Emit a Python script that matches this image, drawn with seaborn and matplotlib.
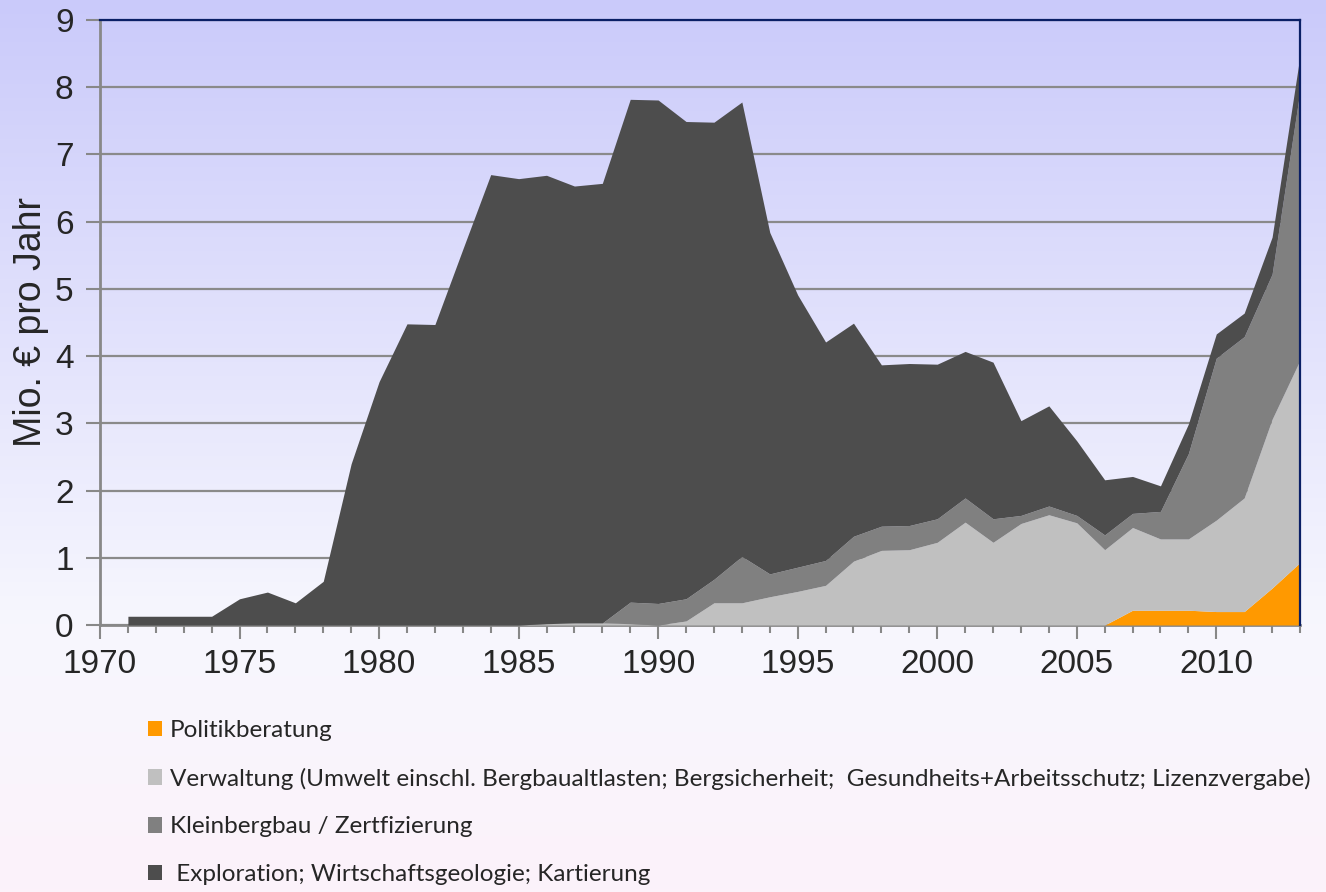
import numpy as np
import pandas as pd
import matplotlib
matplotlib.use("Agg")
import matplotlib.pyplot as plt
import seaborn as sns
from matplotlib.colors import LinearSegmentedColormap
from matplotlib.patches import Patch

# years with data (axis starts at 1970, first value is 1971)
years = list(range(1971, 2014))

# Mio. EUR per year (stacked from bottom to top)
politik = [0] * 35 + [0.0, 0.22, 0.22, 0.22, 0.20, 0.20, 0.55, 0.93]
verwaltung = [0] * 15 + [0.02, 0.03, 0.03, 0.02, 0.0, 0.06, 0.33, 0.33, 0.42,
                         0.50, 0.59, 0.95, 1.11, 1.12, 1.23, 1.53, 1.23, 1.51,
                         1.64, 1.52, 1.12, 1.23, 1.06, 1.06, 1.36, 1.69, 2.51, 3.01]
kleinbergbau = [0] * 17 + [0.0, 0.32, 0.32, 0.33, 0.35, 0.69, 0.34, 0.36, 0.37,
                           0.37, 0.36, 0.36, 0.35, 0.36, 0.35, 0.12, 0.13, 0.11,
                           0.22, 0.21, 0.41, 1.27, 2.41, 2.40, 2.16, 4.01]
exploration = [0.13, 0.13, 0.13, 0.13, 0.39, 0.49, 0.33, 0.65, 2.40, 3.62,
               4.48, 4.47, 5.59, 6.70, 6.64, 6.67, 6.50, 6.54, 7.48, 7.49,
               7.10, 6.80, 6.76, 5.08, 4.05, 3.25, 3.17, 2.40, 2.41, 2.30,
               2.18, 2.33, 1.41, 1.49, 1.11, 0.82, 0.55, 0.38, 0.44, 0.36,
               0.35, 0.55, 0.52]

labels = ["Politikberatung",
          "Verwaltung (Umwelt einschl. Bergbaualtlasten; Bergsicherheit;  Gesundheits+Arbeitsschutz; Lizenzvergabe)",
          "Kleinbergbau / Zertfizierung",
          " Exploration; Wirtschaftsgeologie; Kartierung"]
colors = ["#FF9900", "#C0C0C0", "#808080", "#4D4D4D"]

df = pd.DataFrame({labels[0]: politik, labels[1]: verwaltung,
                   labels[2]: kleinbergbau, labels[3]: exploration}, index=years)

sns.set_style("white")
plt.rcParams["font.family"] = ["Liberation Sans", "DejaVu Sans"]

fig = plt.figure(figsize=(13.26, 8.92), dpi=100)

# lavender-to-white background gradient over the whole figure
bg = fig.add_axes([0, 0, 1, 1], zorder=-10)
cmap = LinearSegmentedColormap.from_list(
    "bg", [(0.0, "#CACAFA"), (0.70, "#F7F7FE"), (1.0, "#FCF2FA")])
bg.imshow(np.linspace(0, 1, 256).reshape(-1, 1), aspect="auto", cmap=cmap,
          extent=[0, 1, 0, 1])
bg.axis("off")

ax = fig.add_axes([100 / 1326, 1 - 625 / 892, 1200 / 1326, 605 / 892])
ax.patch.set_alpha(0)

ax.stackplot(df.index, df.T.values, colors=colors, labels=labels,
             linewidth=0, zorder=3)

ax.set_xlim(1970, 2013)
ax.set_ylim(0, 9)
ax.set_yticks(range(0, 10))
ax.set_xticks(range(1970, 2014, 5))
ax.set_xticks(range(1970, 2014), minor=True)
ax.yaxis.grid(True, color="#8A8A8A", linewidth=1.6, zorder=0)
ax.set_axisbelow(True)

for s in ["top", "right"]:
    ax.spines[s].set_color("#0A1F66")
    ax.spines[s].set_linewidth(1.6)
for s in ["left", "bottom"]:
    ax.spines[s].set_color("#888888")
    ax.spines[s].set_linewidth(2)
ax.spines["top"].set_zorder(5)
ax.spines["right"].set_zorder(5)

ax.tick_params(axis="y", which="major", length=10, width=1.5, color="#888888",
               labelsize=24, pad=9, left=True)
ax.tick_params(axis="x", which="major", length=10, width=1.5, color="#888888",
               labelsize=24, pad=7, bottom=True)
ax.tick_params(axis="x", which="minor", length=6, width=1.5, color="#888888",
               bottom=True)

ax.set_ylabel("Mio. € pro Jahr", fontsize=27, labelpad=4)

handles = [Patch(facecolor=c, edgecolor="none") for c in colors]
fig.legend(handles, labels, loc="upper left", bbox_to_anchor=(126 / 1326, 1 - 698 / 892),
           frameon=False, ncol=1, handlelength=0.6, handleheight=0.6,
           handletextpad=0.3, labelspacing=1.1,
           prop={"family": ["Lato", "DejaVu Sans"], "size": 17.5})

fig.savefig("out.png", dpi=100)
